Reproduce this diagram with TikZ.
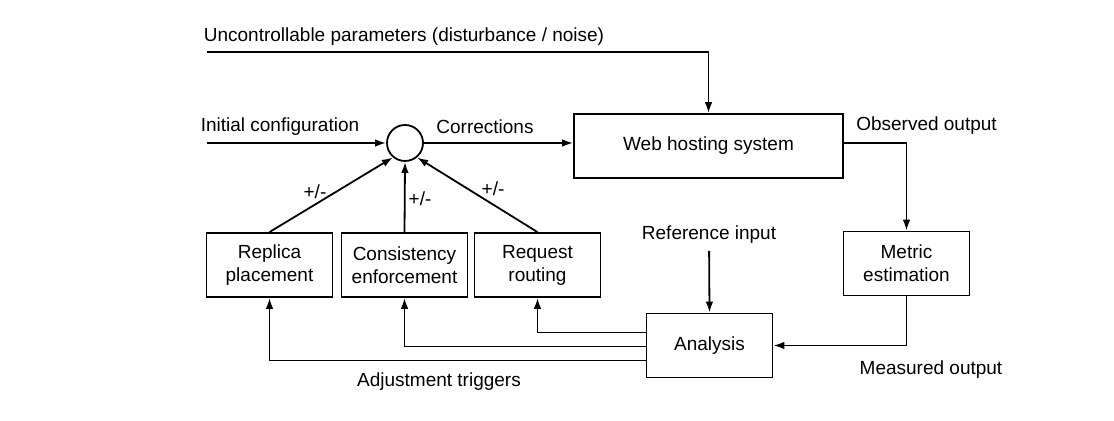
\documentclass[tikz,border=0pt]{standalone}
\usepackage{fontspec}
\setmainfont{Liberation Sans}
\usetikzlibrary{arrows.meta}

\tikzset{
	block/.style = {draw, line width = 0.9pt, minimum width = 63pt, minimum height = 32pt, align = center, inner sep = 2pt},
	flow/.style = {line width = 0.9pt, -{Latex[length = 5.5pt, width = 3.8pt]}}
}

\begin{document}
\begin{tikzpicture}[x = 0.5pt, y = -0.5pt, font = \fontsize{9.5}{11.5}\selectfont]
	\useasboundingbox (0,0) rectangle (1114,421);
	% blocks
	\node [block, minimum width = 134.5pt] (web) at (708.5,146) {Web hosting system};
	\node [circle, draw, line width = 0.9pt, minimum size = 18pt, inner sep = 0pt] (sum) at (405,143) {};
	\node [block] (replica) at (269.5,265) {Replica\\placement};
	\node [block] (consist) at (404.5,265) {Consistency\\enforcement};
	\node [block] (routing) at (537.5,265) {Request\\routing};
	\node [block] (metric) at (906.5,263.5) {Metric\\estimation};
	\node [block] (analysis) at (709.5,345.5) {Analysis};
	% labels
	\node (noise) at (404,37) {Uncontrollable parameters (disturbance / noise)};
	\node (initcfg) at (280,127) {Initial configuration};
	\node (corr) at (485,127) {Corrections};
	\node (observed) at (926.5,126) {Observed output};
	\node (refin) at (709,235) {Reference input};
	\node (measured) at (931,370) {Measured output};
	\node (triggers) at (439,382) {Adjustment triggers};
	\node (pmA) at (315,192) {+/-};
	\node (pmB) at (420,199) {+/-};
	\node (pmC) at (493,189) {+/-};
	\coordinate (noisein) at (207,52);
	\coordinate (initin) at (207,143);
	% connectors
	\draw [flow] (noisein) -| (web.north);
	\draw [flow] (initin) -- (sum);
	\draw [flow] (sum) -- (sum -| web.west);
	\draw [flow] (sum -| web.east) -| (metric.north);
	\draw [flow] (metric.south) |- (analysis.east);
	\draw [flow] (refin) -- (analysis.north);
	\draw [flow] ([yshift = 6.5pt]analysis.west) -| (routing.south);
	\draw [flow] ([yshift = -0.5pt]analysis.west) -| (consist.south);
	\draw [flow] ([yshift = -7.5pt]analysis.west) -| (replica.south);
	\draw [flow] (replica.north) -- (sum.-130);
	\draw [flow] (consist.north) -- (sum.south);
	\draw [flow] (routing.north) -- (sum.-50);
\end{tikzpicture}
\end{document}
